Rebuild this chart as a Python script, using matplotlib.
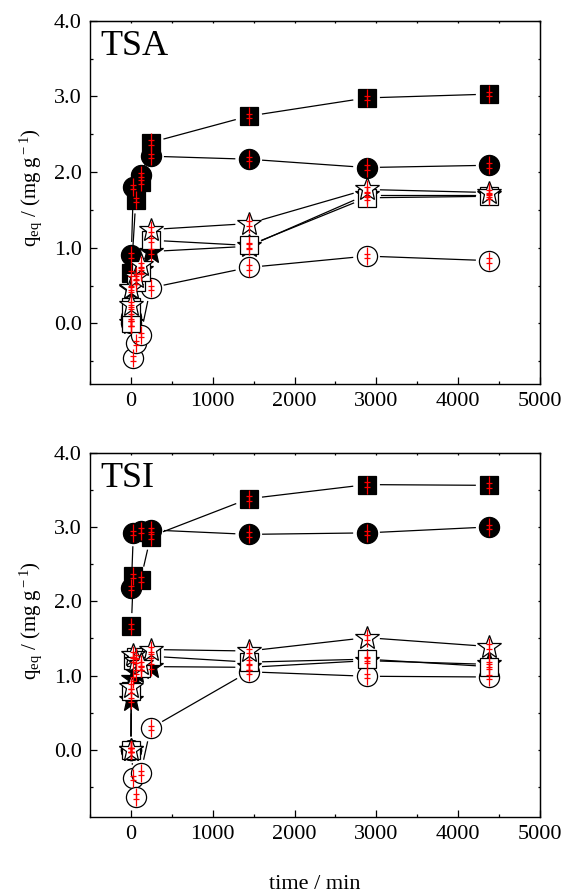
import matplotlib
matplotlib.use("Agg")
import matplotlib.pyplot as plt
import numpy as np

plt.rcParams['font.family'] = ['Liberation Serif', 'DejaVu Serif']
plt.rcParams['mathtext.fontset'] = 'custom'
plt.rcParams['mathtext.rm'] = 'Liberation Serif'
plt.rcParams['mathtext.it'] = 'Liberation Serif:italic'

# contact time (min) and uptake q_eq (mg/g) for each sample, TSA resin
tsa_t_fsq = [5, 60, 120, 240, 1440, 2880, 4380]
tsa_q_fsq = [0.66, 1.63, 1.87, 2.39, 2.74, 2.98, 3.03]
tsa_t_fci = [5, 30, 120, 240, 1440, 2880, 4380]
tsa_q_fci = [0.90, 1.80, 1.96, 2.21, 2.17, 2.06, 2.09]
tsa_t_fst = [0, 5, 60, 120, 240, 1440, 2880, 4380]
tsa_q_fst = [0.00, 0.45, 0.60, 0.70, 0.95, 1.02, 1.70, 1.70]
tsa_t_oci = [0, 5, 30, 60, 120, 240, 1440, 2880, 4380]
tsa_q_oci = [0.00, 0.09, -0.46, -0.26, -0.15, 0.47, 0.74, 0.89, 0.83]
tsa_t_osq = [0, 5, 60, 120, 240, 1440, 2880, 4380]
tsa_q_osq = [0.00, 0.22, 0.55, 0.68, 1.10, 1.03, 1.66, 1.68]
tsa_t_ost = [0, 5, 60, 120, 240, 1440, 2880, 4380]
tsa_q_ost = [0.25, 0.47, 0.62, 0.77, 1.24, 1.32, 1.77, 1.73]

# same for the TSI resin
tsi_t_fsq = [5, 30, 120, 240, 1440, 2880, 4380]
tsi_q_fsq = [1.66, 2.34, 2.29, 2.87, 3.38, 3.57, 3.56]
tsi_t_fci = [5, 30, 120, 240, 1440, 2880, 4380]
tsi_q_fci = [2.18, 2.92, 2.95, 2.96, 2.90, 2.92, 3.00]
tsi_t_fst = [0, 5, 30, 60, 120, 240, 1440, 2880, 4380]
tsi_q_fst = [0.00, 0.67, 0.95, 1.05, 1.10, 1.12, 1.11, 1.20, 1.15]
tsi_t_oci = [0, 5, 30, 60, 120, 240, 1440, 2880, 4380]
tsi_q_oci = [0.00, 0.00, -0.38, -0.63, -0.31, 0.29, 1.05, 0.99, 0.98]
tsi_t_osq = [0, 5, 30, 60, 120, 240, 1440, 2880, 4380]
tsi_q_osq = [0.00, 0.79, 1.21, 1.25, 1.10, 1.26, 1.18, 1.22, 1.12]
tsi_t_ost = [0, 5, 30, 60, 120, 240, 1440, 2880, 4380]
tsi_q_ost = [0.00, 0.85, 1.28, 1.20, 1.15, 1.35, 1.33, 1.51, 1.39]

ERR_BAR = 0.12   # std. deviation drawn as red bar
ERR_CAP = 0.03

X_TICKS = [0, 1000, 2000, 3000, 4000, 5000]
Y_TICKS = [0.0, 1.0, 2.0, 3.0, 4.0]

# marker styles: (marker, facecolor, size)
STYLES = {
    'fsq': ('s', 'black', 13),
    'fci': ('o', 'black', 14.5),
    'fst': ('*', 'black', 18),
    'oci': ('o', 'white', 14.5),
    'osq': ('s', 'white', 13),
    'ost': ('*', 'white', 18),
}
ORDER = ['fsq', 'fci', 'fst', 'oci', 'osq', 'ost']


def gapped_line(ax, t, q, gap=14):
    # connect points with segments that stop short of the markers
    pts = ax.transData.transform(np.column_stack([t, q]))
    inv = ax.transData.inverted()
    for (x0, y0), (x1, y1) in zip(pts[:-1], pts[1:]):
        d = np.hypot(x1 - x0, y1 - y0)
        if d <= 2 * gap:
            continue
        ux, uy = (x1 - x0) / d, (y1 - y0) / d
        seg = inv.transform([[x0 + ux * gap, y0 + uy * gap],
                             [x1 - ux * gap, y1 - uy * gap]])
        ax.plot(seg[:, 0], seg[:, 1], color='black', lw=0.9, zorder=1)


def panel(ax, series, label, ylim):
    ax.set_xlim(-500, 5000)
    ax.set_ylim(*ylim)
    for i, key in enumerate(ORDER):
        t, q = series[key]
        mk, fc, ms = STYLES[key]
        gapped_line(ax, t, q)
        ax.plot(t, q, linestyle='none', marker=mk, markersize=ms,
                markerfacecolor=fc, markeredgecolor='black',
                markeredgewidth=0.9, zorder=2 + i)
        ax.errorbar(t, q, yerr=ERR_BAR, fmt='none', ecolor='red',
                    elinewidth=0.9, capsize=0, zorder=10)
        ax.errorbar(t, q, yerr=ERR_CAP, fmt='none', ecolor='red',
                    elinewidth=0.9, capsize=2.5, capthick=0.9, zorder=10)

    ax.set_xticks(X_TICKS)
    ax.set_xticks(np.arange(-500, 5001, 500), minor=True)
    ax.set_yticks(Y_TICKS)
    ax.set_yticks(np.arange(-0.5, 4.01, 0.5), minor=True)
    ax.set_yticklabels(['%.1f' % y for y in Y_TICKS])
    ax.tick_params(which='major', direction='in', length=5, width=0.9,
                   labelsize=16, pad=6)
    ax.tick_params(which='minor', direction='in', length=2.5, width=0.9)

    # short ticks on the opposite frame edges
    top = ax.secondary_xaxis('top')
    top.set_xticks(np.arange(-500, 5001, 500))
    top.tick_params(direction='in', length=1.5, width=0.9, labeltop=False)
    right = ax.secondary_yaxis('right')
    right.set_yticks(np.arange(-0.5, 4.01, 0.5))
    right.tick_params(direction='in', length=1.5, width=0.9, labelright=False)

    for sp in ax.spines.values():
        sp.set_linewidth(1.0)
    ax.set_ylabel(r'q$_{\rm eq}$ / (mg g$^{\rm -1}$)', fontsize=15)
    ax.yaxis.set_label_coords(-0.103, 0.54)
    ax.text(0.022, 0.975, label, transform=ax.transAxes, fontsize=26,
            ha='left', va='top')


fig = plt.figure(figsize=(5.66, 8.93), dpi=100)
ax1 = fig.add_axes([0.159, 0.570, 0.795, 0.4068])
ax2 = fig.add_axes([0.159, 0.0855, 0.795, 0.4076])

tsa = {
    'fsq': (tsa_t_fsq, tsa_q_fsq), 'fci': (tsa_t_fci, tsa_q_fci),
    'fst': (tsa_t_fst, tsa_q_fst), 'oci': (tsa_t_oci, tsa_q_oci),
    'osq': (tsa_t_osq, tsa_q_osq), 'ost': (tsa_t_ost, tsa_q_ost),
}
tsi = {
    'fsq': (tsi_t_fsq, tsi_q_fsq), 'fci': (tsi_t_fci, tsi_q_fci),
    'fst': (tsi_t_fst, tsi_q_fst), 'oci': (tsi_t_oci, tsi_q_oci),
    'osq': (tsi_t_osq, tsi_q_osq), 'ost': (tsi_t_ost, tsi_q_ost),
}

panel(ax1, tsa, 'TSA', (-0.8, 4.0))
panel(ax2, tsi, 'TSI', (-0.9, 4.0))
ax2.set_xlabel('time / min', fontsize=16, labelpad=22)

fig.savefig('out.png', dpi=100, facecolor='white')
